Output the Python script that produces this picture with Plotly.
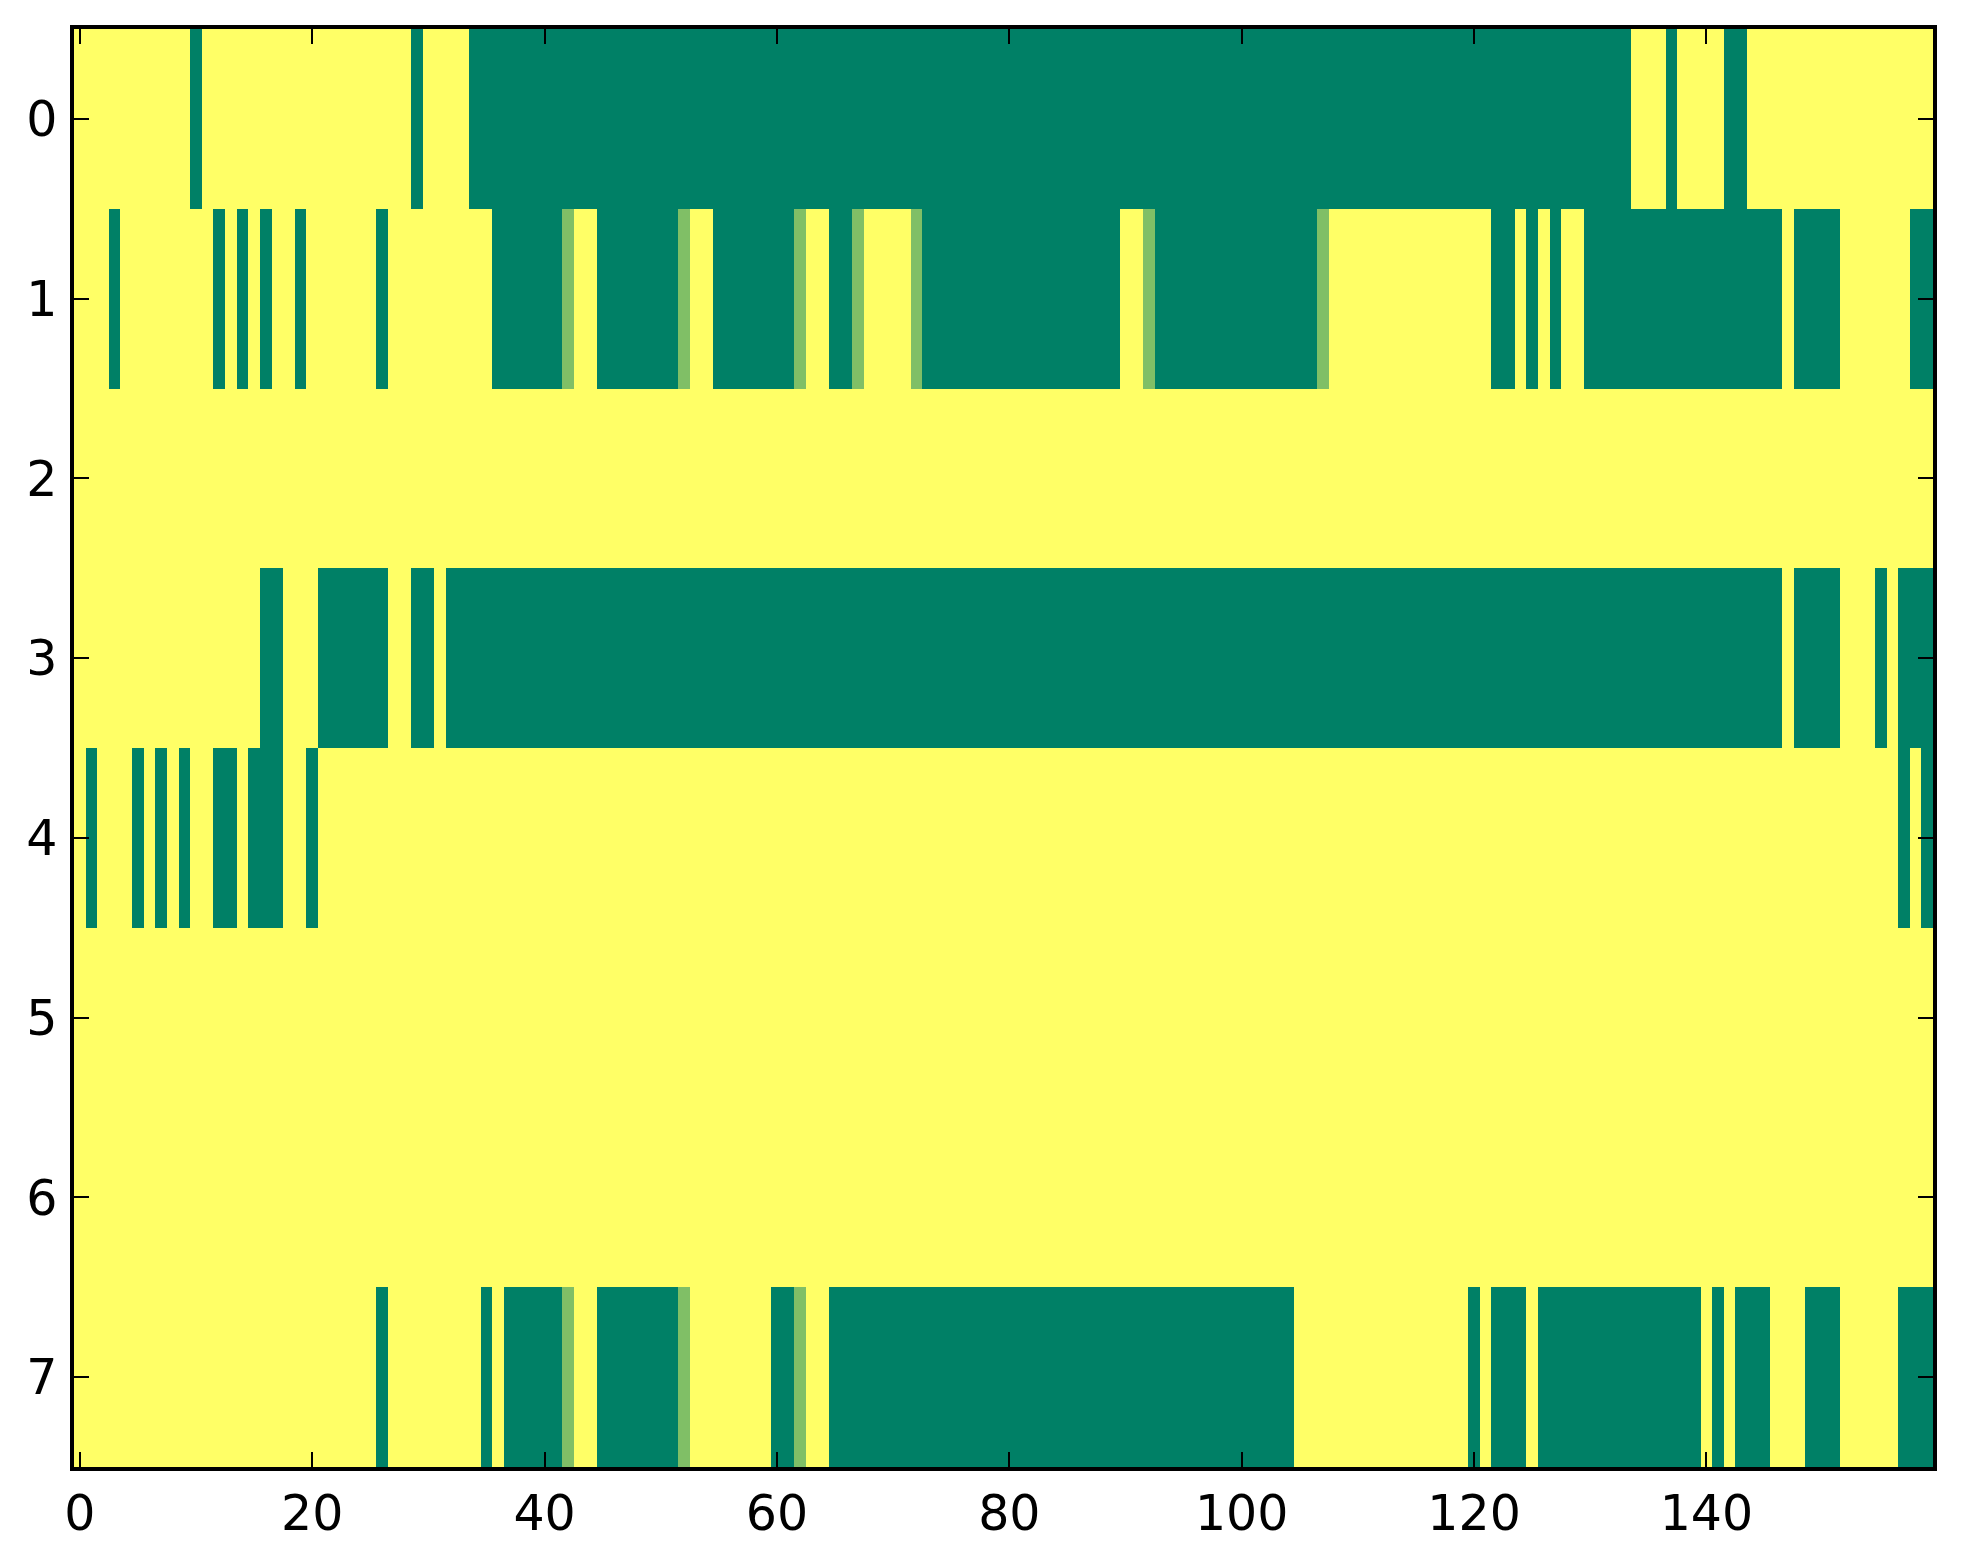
import plotly.graph_objects as go

# Cell states: "G" = 0.0 (dark green), "L" = 0.5 (light green), "Y" = 1.0 (yellow)
# Each row is given as run-length segments (state, number of columns), 160 columns total.
row0 = [("Y", 10), ("G", 1), ("Y", 18), ("G", 1), ("Y", 4), ("G", 100), ("Y", 3), ("G", 1),
        ("Y", 4), ("G", 2), ("Y", 16)]
row1 = [("Y", 3), ("G", 1), ("Y", 8), ("G", 1), ("Y", 1), ("G", 1), ("Y", 1), ("G", 1), ("Y", 2),
        ("G", 1), ("Y", 6), ("G", 1), ("Y", 9), ("G", 6), ("L", 1), ("Y", 2), ("G", 7), ("L", 1),
        ("Y", 2), ("G", 7), ("L", 1), ("Y", 2), ("G", 2), ("L", 1), ("Y", 4), ("L", 1), ("G", 17),
        ("Y", 2), ("L", 1), ("G", 14), ("L", 1), ("Y", 14), ("G", 2), ("Y", 1), ("G", 1), ("Y", 1),
        ("G", 1), ("Y", 2), ("G", 17), ("Y", 1), ("G", 4), ("Y", 6), ("G", 2)]
row2 = [("Y", 160)]
row3 = [("Y", 16), ("G", 2), ("Y", 3), ("G", 6), ("Y", 2), ("G", 2), ("Y", 1), ("G", 115),
        ("Y", 1), ("G", 4), ("Y", 3), ("G", 1), ("Y", 1), ("G", 3)]
row4 = [("Y", 1), ("G", 1), ("Y", 3), ("G", 1), ("Y", 1), ("G", 1), ("Y", 1), ("G", 1), ("Y", 2),
        ("G", 2), ("Y", 1), ("G", 3), ("Y", 2), ("G", 1), ("Y", 136), ("G", 1), ("Y", 1), ("G", 1)]
row5 = [("Y", 160)]
row6 = [("Y", 160)]
row7 = [("Y", 26), ("G", 1), ("Y", 8), ("G", 1), ("Y", 1), ("G", 5), ("L", 1), ("Y", 2), ("G", 7),
        ("L", 1), ("Y", 7), ("G", 2), ("L", 1), ("Y", 2), ("G", 40), ("Y", 15), ("G", 1), ("Y", 1),
        ("G", 3), ("Y", 1), ("G", 14), ("Y", 1), ("G", 1), ("Y", 1), ("G", 3), ("Y", 3), ("G", 3),
        ("Y", 5), ("G", 3)]

state_values = {"G": 0.0, "L": 0.5, "Y": 1.0}
rows = [row0, row1, row2, row3, row4, row5, row6, row7]
x_tick_values = [0, 20, 40, 60, 80, 100, 120, 140]
y_tick_values = [0, 1, 2, 3, 4, 5, 6, 7]


def expand(runs):
    out = []
    for state, n in runs:
        out.extend([state_values[state]] * n)
    return out


z = [expand(r) for r in rows]
ncols = len(z[0])

fig = go.Figure(go.Heatmap(
    z=z,
    x=list(range(ncols)),
    y=list(range(len(z))),
    zmin=0, zmax=1,
    colorscale=[[0.0, "#008066"], [0.5, "#80bf66"], [1.0, "#ffff66"]],
    showscale=False,
    hoverinfo="skip",
))

axis_common = dict(
    showline=True, linecolor="black", linewidth=3.5, mirror="ticks",
    ticks="inside", ticklen=15, tickwidth=2, tickcolor="black",
    showgrid=False, zeroline=False,
    tickfont=dict(family="DejaVu Sans", size=49, color="black"),
)

fig.update_layout(
    width=1963, height=1564,
    margin=dict(l=66, r=38, t=21, b=105),
    paper_bgcolor="white", plot_bgcolor="white",
    xaxis=dict(range=[-0.5, ncols - 0.5], tickvals=x_tick_values,
               ticklabelstandoff=0, **axis_common),
    yaxis=dict(range=[len(z) - 0.5, -0.5], tickvals=y_tick_values,
               ticklabelstandoff=3, **axis_common),
)

fig.write_html("out.html")
